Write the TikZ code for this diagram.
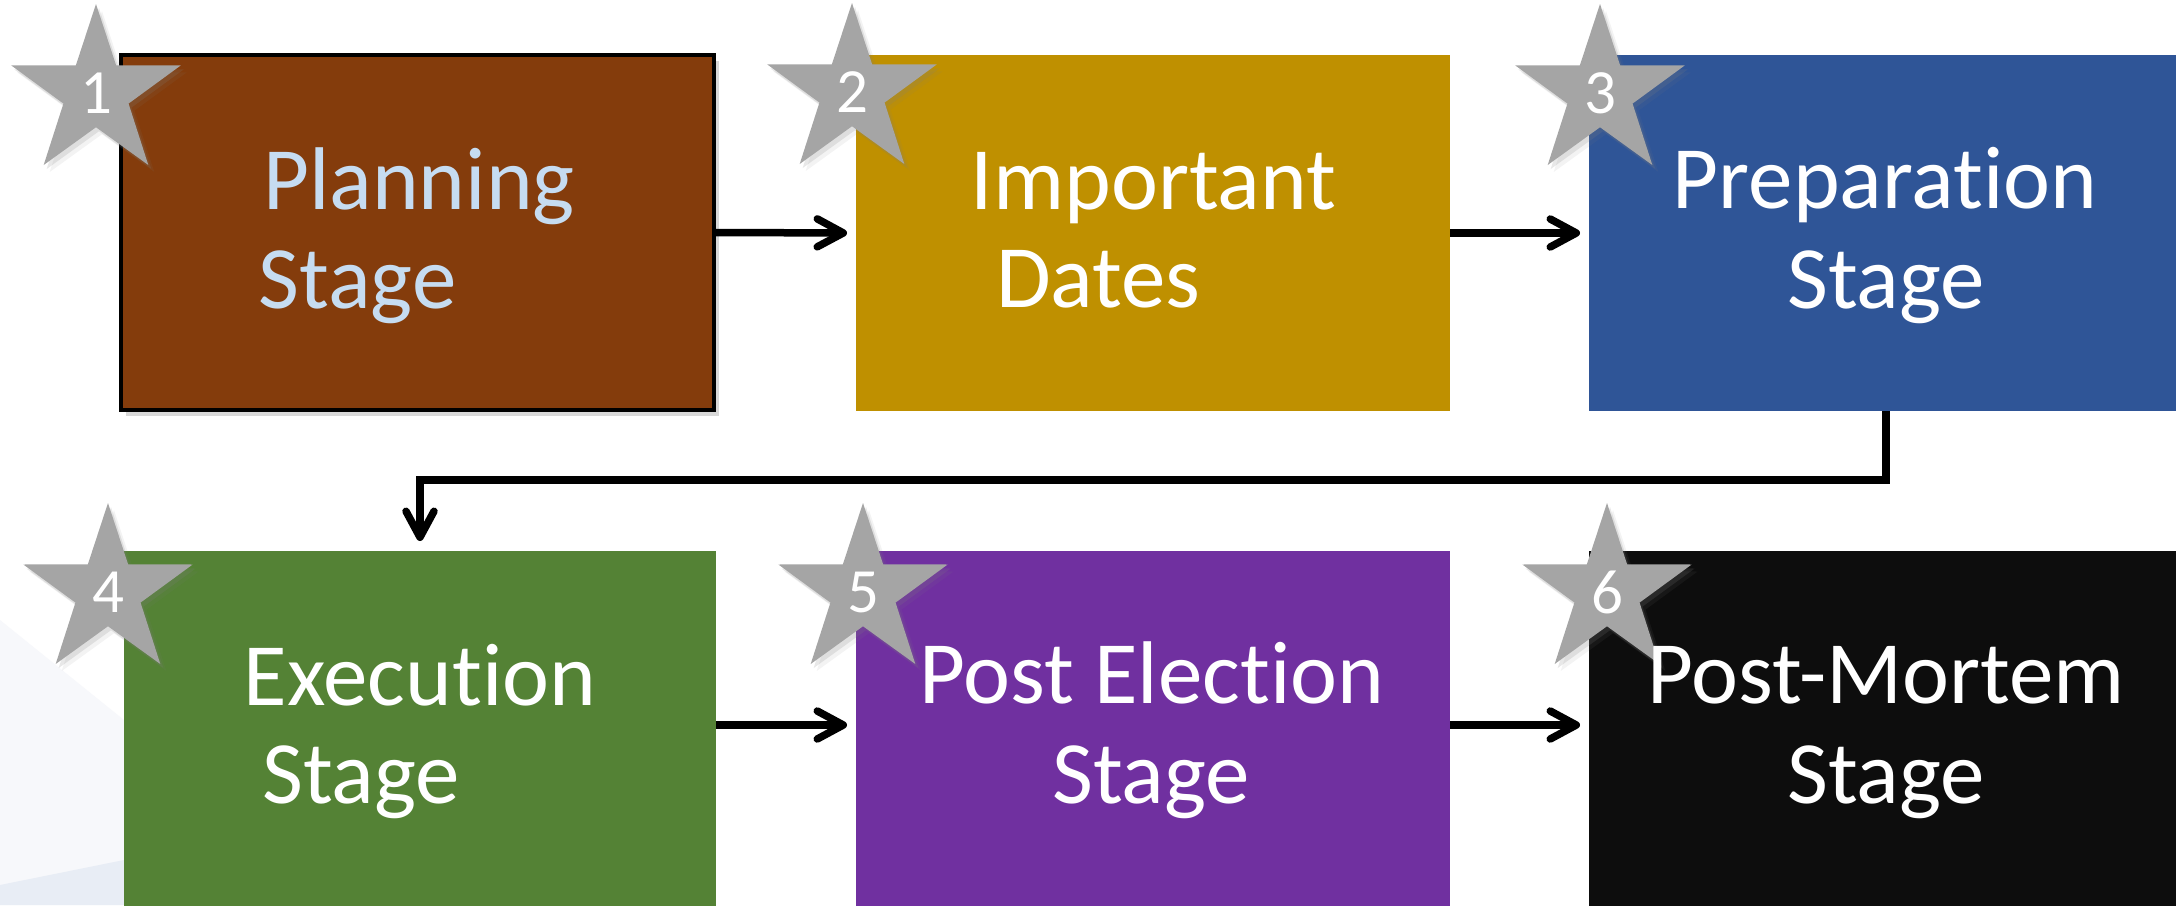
\documentclass[tikz,border=0pt]{standalone}
\usepackage{fontspec}
\setmainfont{Carlito}[RawFeature={-liga;-clig;-calt;-dlig}]
\usetikzlibrary{shapes.geometric,arrows.meta,shadows}
\definecolor{cbrown}{HTML}{843C0C}
\definecolor{cgold}{HTML}{BF9000}
\definecolor{cblue}{HTML}{2F5597}
\definecolor{cgreen}{HTML}{548235}
\definecolor{cpurple}{HTML}{7030A0}
\definecolor{cblack}{HTML}{0D0D0D}
\definecolor{cstar}{HTML}{A5A5A5}
\definecolor{cplan}{HTML}{C6DCF1}
\definecolor{cbg}{HTML}{E8EDF5}
\definecolor{cbgl}{HTML}{F7F8FB}
\begin{document}
\begin{tikzpicture}[x=1pt,y=-1pt,
  stagebox/.style={rectangle,inner sep=0pt,outer sep=0pt,draw=none},
  starbadge/.style={star,star points=5,star point ratio=2.6,minimum size=178pt,
    inner sep=0pt,fill=cstar,text=white,font=\fontsize{63}{63}\selectfont,
    drop shadow={shadow xshift=3pt,shadow yshift=-4pt,opacity=.18},
    drop shadow={shadow xshift=6pt,shadow yshift=-7pt,opacity=.09}},
  lbl/.style={anchor=base,inner sep=0pt,text=white,font=\fontsize{89}{99}\selectfont},
  arr/.style={line width=7.5pt,-{Straight Barb[length=26pt,width=28pt,round]}}]
\path[use as bounding box] (0,0) rectangle (2176,905);
\clip (0,0) rectangle (2176,905);
\fill[white] (0,0) rectangle (2176,905);
% faint background decoration
\fill[cbgl] (0,620) -- (124,720) -- (124,905) -- (0,905) -- cycle;
\fill[cbg] (0,905) -- (0,885) -- (124,860) -- (124,905) -- cycle;
% boxes
\node[stagebox,fill=cbrown,draw=black,line width=4pt,minimum width=593pt,minimum height=355pt,
  drop shadow={shadow xshift=5pt,shadow yshift=-6pt,opacity=.3}] (b1) at (417.5,232.5) {};
\node[stagebox,fill=cgold,minimum width=594pt,minimum height=356pt] (b2) at (1153,233) {};
\node[stagebox,fill=cblue,minimum width=594pt,minimum height=356pt] (b3) at (1886,233) {};
\node[stagebox,fill=cgreen,minimum width=592pt,minimum height=360pt] (b4) at (420,731) {};
\node[stagebox,fill=cpurple,minimum width=594pt,minimum height=360pt] (b5) at (1153,731) {};
\node[stagebox,fill=cblack,minimum width=594pt,minimum height=360pt] (b6) at (1886,731) {};
% connectors
\draw[arr,shorten >=9pt] (b1.east) -- (b2.west);
\draw[arr,shorten >=9pt] (b2.east) -- (b3.west);
\draw[arr,shorten >=10pt] (b3.south) -- ++(0,69) -| (b4.north);
\draw[arr,shorten >=9pt] ([yshift=6pt]b4.east) -- ([yshift=6pt]b5.west);
\draw[arr,shorten >=9pt] ([yshift=6pt]b5.east) -- ([yshift=6pt]b6.west);
% stars
\node[starbadge] (s1) at (96,93) {1};
\node[starbadge] (s2) at (852,92) {2};
\node[starbadge] (s3) at (1600,93) {3};
\node[starbadge] (s4) at (108,592) {4};
\node[starbadge] (s5) at (863,592) {5};
\node[starbadge] (s6) at (1607,592) {6};
% labels
\node[lbl,text=cplan] (t1a) at (419,209) {Planning};
\node[lbl,text=cplan] (t1b) at (357.5,308) {Stage};
\node[lbl] (t2a) at (1153.5,209) {Important};
\node[lbl] (t2b) at (1098.5,307) {Dates};
\node[lbl] (t3a) at (1885,208) {Preparat\kern0pt ion};
\node[lbl] (t3b) at (1886,308) {Stage};
\node[lbl] (t4a) at (420,705) {Execut\kern0pt ion};
\node[lbl] (t4b) at (361,803) {Stage};
\node[lbl] (t5a) at (1152,703) {Post Election};
\node[lbl] (t5b) at (1151,803) {Stage};
\node[lbl] (t6a) at (1886,703) {Post-Mortem};
\node[lbl] (t6b) at (1886,803) {Stage};
\end{tikzpicture}
\end{document}
